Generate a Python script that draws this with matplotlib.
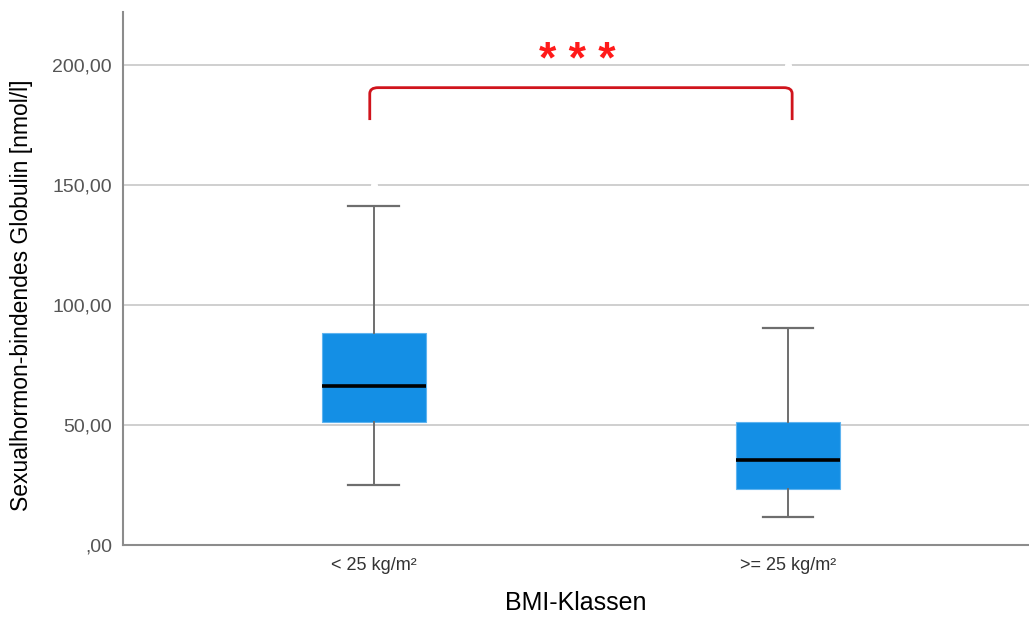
import matplotlib
matplotlib.use("Agg")
import matplotlib.pyplot as plt
from matplotlib.path import Path
from matplotlib.patches import PathPatch

plt.rcParams['font.family'] = ['Liberation Sans', 'DejaVu Sans']

categories = ["< 25 kg/m²", ">= 25 kg/m²"]
whisker_low = [25.0, 11.5]
q1 = [51.3, 23.3]
median = [66.2, 35.4]
q3 = [88.3, 51.4]
whisker_high = [141.3, 90.4]
fliers = [[150.0], [200.0]]
yticks = [0, 50, 100, 150, 200]
ytick_labels = [",00", "50,00", "100,00", "150,00", "200,00"]
xlabel = "BMI-Klassen"
ylabel = "Sexualhormon-bindendes Globulin [nmol/l]"
sig_label = "* * *"
bracket_top = 190.5
bracket_leg = 177.0

fig = plt.figure(figsize=(10.29, 6.17), dpi=100)
ax = fig.add_axes([0.1195, 0.1167, 0.8805, 0.8638])

stats = []
for i, c in enumerate(categories):
    stats.append(dict(label=c, whislo=whisker_low[i], q1=q1[i], med=median[i],
                      q3=q3[i], whishi=whisker_high[i], fliers=fliers[i]))

positions = list(range(len(categories)))
ax.bxp(stats, positions=positions, widths=0.25, capwidths=0.123, patch_artist=True,
       boxprops=dict(facecolor="#148fe5", edgecolor="#5fb4f0", linewidth=0.8),
       medianprops=dict(color="black", linewidth=2.6),
       whiskerprops=dict(color="#6e6e6e", linewidth=1.4),
       capprops=dict(color="#6e6e6e", linewidth=1.6),
       flierprops=dict(marker="o", markersize=4, markerfacecolor="white",
                       markeredgecolor="white"),
       zorder=3)

ax.set_xlim(-0.606, 1.582)
ax.set_ylim(0, 222)
ax.set_yticks(yticks)
ax.set_yticklabels(ytick_labels, fontsize=14, color="#555555")
ax.set_xticks(positions)
ax.set_xticklabels(categories, fontsize=13, color="#333333")
ax.tick_params(axis="both", length=0, pad=8)
ax.tick_params(axis="x", pad=9)
ax.yaxis.grid(True, color="#cccccc", linewidth=1.3, zorder=0)
ax.set_axisbelow(True)

for s in ["top", "right"]:
    ax.spines[s].set_visible(False)
for s in ["left", "bottom"]:
    ax.spines[s].set_color("#8c8c8c")
    ax.spines[s].set_linewidth(1.5)

ax.set_xlabel(xlabel, fontsize=18, labelpad=12)
ax.set_ylabel(ylabel, fontsize=16.5)
ax.yaxis.set_label_coords(-0.099, 0.468)

# significance bracket with rounded corners
x0, x1 = positions[0] - 0.01, positions[1] + 0.01
r = 0.02
rv = 2.5
verts = [(x0, bracket_leg), (x0, bracket_top - rv), (x0, bracket_top), (x0 + r, bracket_top),
         (x1 - r, bracket_top), (x1, bracket_top), (x1, bracket_top - rv), (x1, bracket_leg)]
codes = [Path.MOVETO, Path.LINETO, Path.CURVE3, Path.CURVE3,
         Path.LINETO, Path.CURVE3, Path.CURVE3, Path.LINETO]
ax.add_patch(PathPatch(Path(verts, codes), facecolor="none", edgecolor="#d0141c",
                       linewidth=2.0, zorder=4, clip_on=False))
ax.text((positions[0] + positions[1]) / 2 - 0.01, 201.5, sig_label, color="#ff1a1a",
        fontsize=32, fontweight="bold", ha="center", va="center", zorder=5)

fig.savefig("out.png", dpi=100)
